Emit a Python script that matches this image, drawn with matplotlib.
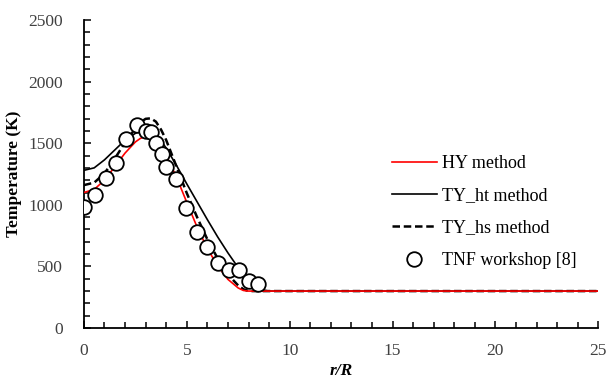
import matplotlib.pyplot as plt
from matplotlib.ticker import MultipleLocator

# radial position r/R and temperatures (K)
x_hy = [0, 0.5, 1, 1.5, 2, 2.5, 2.75, 3, 3.25, 3.5, 3.75, 4, 4.5, 5, 5.5, 6, 6.5, 7, 7.5, 7.75, 8, 25]
t_hy = [1100, 1125, 1200, 1310, 1420, 1510, 1540, 1553, 1548, 1520, 1470, 1400, 1225, 1020, 820, 645,
        505, 395, 325, 305, 300, 300]

x_ht = [0, 0.5, 1, 1.5, 2, 2.5, 2.75, 3, 3.25, 3.5, 3.75, 4, 4.5, 5, 5.5, 6, 6.5, 7, 7.5, 8, 8.5, 9, 25]
t_ht = [1280, 1300, 1365, 1445, 1525, 1580, 1598, 1603, 1595, 1565, 1520, 1460, 1320, 1170, 1025, 880,
        740, 610, 490, 385, 315, 300, 300]

x_hs = [0, 0.5, 1, 1.5, 2, 2.5, 2.75, 3, 3.25, 3.5, 3.75, 4, 4.5, 5, 5.5, 6, 6.5, 7, 7.5, 7.75, 8, 25]
t_hs = [1160, 1180, 1255, 1375, 1505, 1620, 1670, 1698, 1702, 1675, 1610, 1525, 1310, 1095, 900, 720,
        565, 435, 345, 315, 300, 300]

x_tnf = [0, 0.53, 1.06, 1.54, 2.03, 2.56, 3.04, 3.28, 3.52, 3.81, 4.0, 4.49, 4.95, 5.5, 5.98, 6.52,
         7.05, 7.53, 8.0, 8.45]
t_tnf = [982, 1080, 1218, 1339, 1534, 1648, 1600, 1590, 1500, 1410, 1307, 1209, 974, 779, 657, 528,
         471, 471, 381, 357]

plt.rcParams['font.family'] = ['Liberation Serif', 'DejaVu Serif']

fig = plt.figure(figsize=(6.08, 3.81), dpi=100)
ax = fig.add_axes([0.138, 0.139, 0.846, 0.8085])

ax.plot(x_hy, t_hy, color='red', lw=1.2, label='HY method', zorder=3)
ax.plot(x_ht, t_ht, color='black', lw=1.2, label='TY_ht method', zorder=2)
ax.plot(x_hs, t_hs, color='black', lw=1.8, ls=(0, (3, 1.5)), label='TY_hs method', zorder=2)
ax.plot(x_tnf, t_tnf, 'o', ms=10.5, mfc='white', mec='black', mew=1.3,
        label='TNF workshop [8]', zorder=4)

ax.set_xlim(0, 25)
ax.set_ylim(0, 2500)
ax.xaxis.set_major_locator(MultipleLocator(5))
ax.xaxis.set_minor_locator(MultipleLocator(1))
ax.yaxis.set_major_locator(MultipleLocator(500))
ax.yaxis.set_minor_locator(MultipleLocator(100))

for s in ['top', 'right']:
    ax.spines[s].set_visible(False)
for s in ['left', 'bottom']:
    ax.spines[s].set_linewidth(1.3)

ax.tick_params(which='both', direction='in', width=1.1, labelsize=12.5,
               labelcolor='#404040')
ax.tick_params(axis='x', pad=10.5)
ax.tick_params(axis='y', pad=15)
ax.tick_params(which='major', length=5)
ax.tick_params(which='minor', length=4)

ax.set_xlabel('r/R', fontsize=12.5, fontweight='bold', style='italic', labelpad=3)
ax.set_ylabel('Temperature (K)', fontsize=12.5, fontweight='bold', labelpad=5)

ax.legend(loc='upper left', bbox_to_anchor=(0.568, 0.615), frameon=False,
          fontsize=13, labelspacing=0.85, handlelength=2.45, handletextpad=0.3)

fig.savefig('out.png', dpi=100)
